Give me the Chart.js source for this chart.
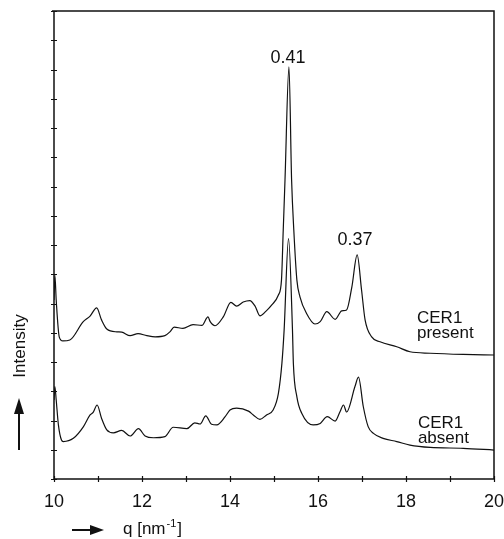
<!DOCTYPE html>
<html>
<head>
<meta charset="utf-8">
<script src="https://cdn.jsdelivr.net/npm/chart.js@4/dist/chart.umd.min.js"></script>
<style>
html,body{margin:0;padding:0;background:#fff;}
#wrap{position:relative;width:504px;height:539px;}
</style>
</head>
<body>
<div id="wrap"><canvas id="c" width="504" height="539"></canvas></div>
<script>
// ---- data ----
const qPresent = [10.00,10.02,10.05,10.12,10.20,10.36,10.66,10.82,10.97,11.08,11.20,11.43,11.54,11.73,11.91,12.11,12.30,12.52,12.64,12.73,12.93,13.16,13.36,13.50,13.55,13.66,13.85,14.02,14.15,14.30,14.45,14.57,14.68,14.82,14.95,15.10,15.17,15.21,15.25,15.34,15.40,15.45,15.52,15.59,15.74,15.93,16.05,16.20,16.39,16.54,16.65,16.77,16.89,16.99,17.07,17.22,17.41,17.79,18.09,18.55,19.30,20.00];
const iPresent = [6.12,6.97,6.12,4.85,4.72,4.75,5.37,5.57,5.85,5.44,5.13,5.03,5.02,4.90,4.97,4.90,4.86,4.90,5.04,5.19,5.15,5.28,5.25,5.54,5.38,5.24,5.55,6.04,5.91,6.05,6.10,5.91,5.58,5.74,5.95,6.29,6.80,8.51,10.22,14.09,10.22,8.51,6.80,6.23,5.66,5.30,5.38,5.72,5.46,5.75,5.78,6.57,7.66,6.46,5.44,4.86,4.69,4.52,4.35,4.30,4.26,4.24];
const qAbsent = [10.00,10.02,10.05,10.10,10.17,10.21,10.44,10.67,10.82,10.89,10.98,11.08,11.20,11.35,11.54,11.73,11.92,12.07,12.26,12.52,12.71,13.02,13.20,13.32,13.45,13.58,13.70,13.89,14.00,14.15,14.42,14.53,14.68,14.83,14.98,15.10,15.18,15.23,15.33,15.42,15.44,15.52,15.63,15.89,16.05,16.21,16.39,16.50,16.58,16.65,16.84,16.92,17.03,17.14,17.26,17.48,17.79,18.09,18.55,19.30,20.00];
const iAbsent = [2.70,3.16,2.70,1.85,1.33,1.28,1.39,1.79,2.19,2.28,2.53,2.08,1.68,1.58,1.66,1.47,1.72,1.47,1.41,1.45,1.77,1.72,1.92,1.88,2.16,1.87,1.85,2.13,2.36,2.42,2.32,2.19,2.04,2.19,2.36,2.93,3.96,5.09,8.22,5.09,3.96,2.81,2.25,1.85,1.90,2.13,1.98,2.30,2.53,2.29,3.16,3.48,2.47,1.79,1.56,1.39,1.28,1.16,1.08,1.05,0.99];
const xTickLabels = [10,12,14,16,18,20];
const xMinorTicks = [10,11,12,13,14,15,16,17,18,19,20];
const yTicks = [0,1,2,3,4,5,6,7,8,9,10,11,12,13,14,15,16];
const peakLabels = [{text:'0.41', q:15.32, v:14.22},{text:'0.37', q:16.84, v:8.0}];
const curveLabels = [
  {lines:['CER1','present'], q:18.25, v:[5.33,4.82]},
  {lines:['CER1','absent'], q:18.27, v:[1.73,1.23]}
];
const xTitle = 'q [nm', xTitleSup = '-1', xTitleEnd = ']';
const yTitle = 'Intensity';

const toPts = (xs, ys) => xs.map((x,i)=>({x:x, y:ys[i]}));
const FONT = '"Liberation Sans", Arial, Helvetica, sans-serif';
const INK = '#111';

const decor = {
  id:'decor',
  afterDraw(chart){
    const ctx = chart.ctx, xs = chart.scales.x, ys = chart.scales.y, a = chart.chartArea;
    ctx.save();
    ctx.strokeStyle = INK; ctx.fillStyle = INK;
    // frame: left, bottom, top, right
    ctx.lineWidth = 1.5;
    ctx.beginPath();
    ctx.moveTo(a.left, a.top); ctx.lineTo(a.left, a.bottom);
    ctx.lineTo(a.right, a.bottom); ctx.lineTo(a.right, a.top); ctx.lineTo(a.left-2, a.top);
    ctx.stroke();
    // ticks
    ctx.lineWidth = 1.2;
    ctx.beginPath();
    yTicks.forEach(t=>{ const y = Math.round(ys.getPixelForValue(t))+0.5; ctx.moveTo(a.left-3,y); ctx.lineTo(a.left+3,y); });
    xMinorTicks.forEach(t=>{ const x = Math.round(xs.getPixelForValue(t))+0.5; ctx.moveTo(x,a.bottom-3); ctx.lineTo(x,a.bottom+3); });
    ctx.stroke();
    // x tick labels
    ctx.font = '18px ' + FONT; ctx.textAlign='center'; ctx.textBaseline='alphabetic';
    xTickLabels.forEach(t=>{ ctx.fillText(String(t), xs.getPixelForValue(t), 507); });
    // peak labels
    ctx.font = '18px ' + FONT;
    peakLabels.forEach(p=>{ ctx.fillText(p.text, xs.getPixelForValue(p.q), ys.getPixelForValue(p.v)); });
    // curve labels
    ctx.font = '17px ' + FONT; ctx.textAlign='left';
    curveLabels.forEach(c=>{ c.lines.forEach((s,i)=>ctx.fillText(s, xs.getPixelForValue(c.q), ys.getPixelForValue(c.v[i]))); });
    // x title with arrow
    ctx.lineWidth = 2;
    ctx.beginPath(); ctx.moveTo(72,530); ctx.lineTo(93,530); ctx.stroke();
    ctx.beginPath(); ctx.moveTo(104,530); ctx.lineTo(90,525); ctx.lineTo(90,535); ctx.closePath(); ctx.fill();
    ctx.font = '17px ' + FONT; ctx.textAlign='left';
    let x0 = 123;
    ctx.fillText(xTitle, x0, 534); x0 += ctx.measureText(xTitle).width + 1;
    ctx.font = '11px ' + FONT; ctx.fillText(xTitleSup, x0, 527); x0 += ctx.measureText(xTitleSup).width + 1;
    ctx.font = '17px ' + FONT; ctx.fillText(xTitleEnd, x0, 534);
    // y title with arrow
    ctx.save();
    ctx.translate(25, 346); ctx.rotate(-Math.PI/2);
    ctx.textAlign='center'; ctx.fillText(yTitle, 0, 0);
    ctx.restore();
    ctx.beginPath(); ctx.moveTo(19,450); ctx.lineTo(19,412); ctx.stroke();
    ctx.beginPath(); ctx.moveTo(19,398); ctx.lineTo(14,414); ctx.lineTo(24,414); ctx.closePath(); ctx.fill();
    ctx.restore();
  }
};

new Chart(document.getElementById('c'), {
  type:'line',
  data:{ datasets:[
    {label:'CER1 present', data:toPts(qPresent,iPresent), borderColor:INK, borderWidth:1.2, pointRadius:0, cubicInterpolationMode:'monotone', fill:false},
    {label:'CER1 absent', data:toPts(qAbsent,iAbsent), borderColor:INK, borderWidth:1.2, pointRadius:0, cubicInterpolationMode:'monotone', fill:false}
  ]},
  options:{
    responsive:false, animation:false, devicePixelRatio:1,
    layout:{padding:{left:54, right:10, top:11, bottom:60}},
    plugins:{legend:{display:false}, tooltip:{enabled:false}},
    scales:{
      x:{type:'linear', min:10, max:20, display:false},
      y:{type:'linear', min:0, max:16, display:false}
    }
  },
  plugins:[decor]
});
</script>
</body>
</html>
